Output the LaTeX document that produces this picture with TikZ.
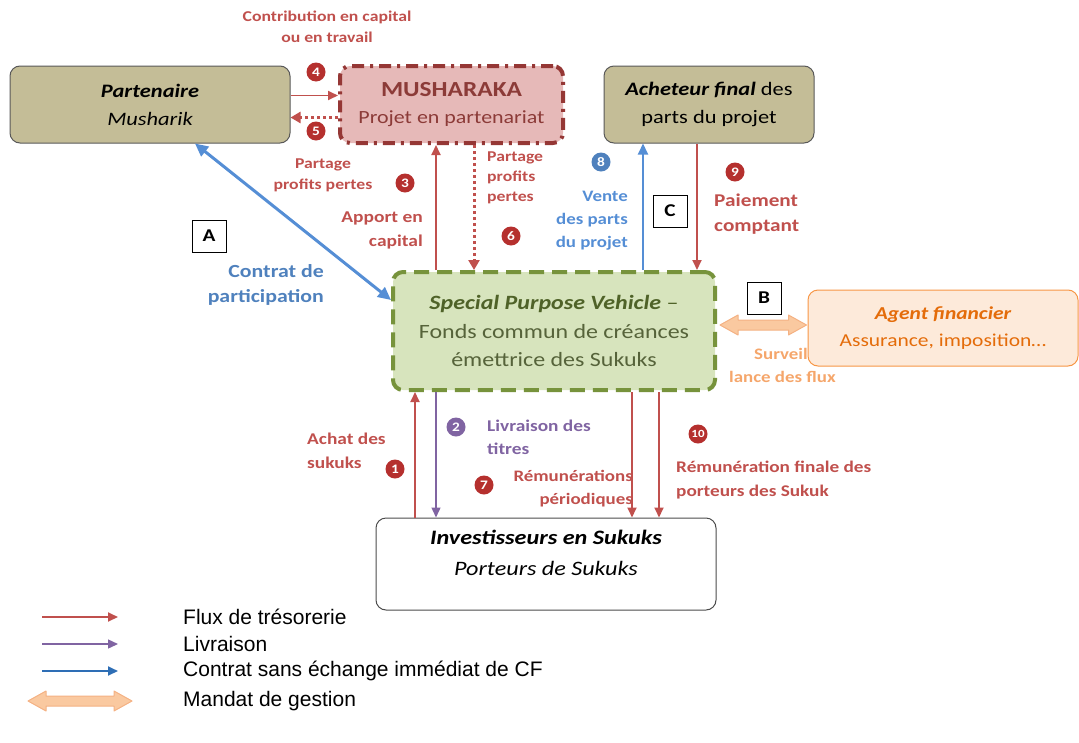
\documentclass[tikz,border=0pt]{standalone}
\usepackage{fontspec}
\setmainfont{Carlito}[FakeStretch=1.18]
\newfontfamily\legfont{Liberation Sans}
\usetikzlibrary{arrows.meta,calc}
\definecolor{tanc}{HTML}{C4BD97}
\definecolor{mushfill}{HTML}{E6B9B8}
\definecolor{mushline}{HTML}{953735}
\definecolor{mushtext}{HTML}{8C3B38}
\definecolor{spvfill}{HTML}{D7E4BD}
\definecolor{spvline}{HTML}{77933C}
\definecolor{spvdark}{HTML}{4F6228}
\definecolor{spvtext}{HTML}{56633A}
\definecolor{agfill}{HTML}{FDEADA}
\definecolor{agline}{HTML}{F79646}
\definecolor{agtext}{HTML}{E46C0A}
\definecolor{survc}{HTML}{F5A66B}
\definecolor{redc}{HTML}{C0504D}
\definecolor{numred}{HTML}{B5302E}
\definecolor{bluec}{HTML}{558ED5}
\definecolor{bluet}{HTML}{4F81BD}
\definecolor{legblue}{HTML}{2E6EB5}
\definecolor{purplec}{HTML}{8064A2}
\definecolor{fatfill}{HTML}{FAC9A0}
\definecolor{fatline}{HTML}{F4B183}
\begin{document}
\begin{tikzpicture}[x=1pt,y=-1pt,
  box/.style={rounded corners=10pt, align=center, inner sep=0pt},
  tanbox/.style={box, draw=black!65, fill=tanc, line width=1pt, font=\fontsize{19}{28}\selectfont},
  redarrow/.style={draw=redc, line width=1.8pt, -{Triangle[length=10pt,width=9pt]}},
  purarrow/.style={draw=purplec, line width=1.4pt, -{Triangle[length=10pt,width=9pt]}},
  bluearrow/.style={draw=bluec, line width=2pt, -{Triangle[length=11pt,width=10pt]}},
  dotarrow/.style={draw=redc, line width=3pt, dash pattern=on 3pt off 3pt, -{Triangle[length=10pt,width=11pt]}},
  num/.style={circle, fill=#1, text=white, inner sep=0pt, minimum size=19pt, font=\fontsize{13}{13}\selectfont\bfseries},
  lab/.style={text=redc, font=\fontsize{16}{23}\selectfont\bfseries, inner sep=0pt},
  letterbox/.style={draw=black, line width=1pt, fill=white, minimum width=34pt, minimum height=32pt, inner sep=0pt, font=\fontsize{18}{18}\selectfont\bfseries},
  fat/.style={fill=fatfill, draw=fatline, line width=1pt, line join=round},
  legtext/.style={anchor=west, inner sep=0pt, font=\legfont\fontsize{21}{21}\selectfont}
]
\useasboundingbox (0,0) rectangle (1079,742);

% ---- main boxes
\node[tanbox, minimum width=280pt, minimum height=77pt] (part) at (150,104.5)
  {{\bfseries\itshape Partenaire}\\ {\itshape Musharik}};
\node[box, draw=mushline, fill=mushfill, line width=4pt, dash pattern=on 12pt off 6pt on 3pt off 6pt,
  minimum width=223pt, minimum height=77pt, font=\fontsize{18.6}{27}\selectfont, text=mushtext] (mush) at (451.5,104.5)
  {{\fontsize{21.5}{21.5}\selectfont\bfseries MUSHARAKA}\\ Projet en partenariat};
\node[tanbox, minimum width=210pt, minimum height=77pt] (ach) at (709,104.5)
  {{\bfseries\itshape Acheteur final} des\\ parts du projet};
\node[box, draw=spvline, fill=spvfill, line width=4pt, dash pattern=on 15pt off 8pt,
  minimum width=322pt, minimum height=118pt, font=\fontsize{20.3}{28.5}\selectfont, text=spvtext] (spv) at (554,331)
  {{\color{spvdark}\bfseries\itshape Special Purpose Vehicle} {\color{spvdark}--}\\ Fonds commun de créances\\ émettrice des Sukuks};

% surveillance label (partly hidden by agent box)
\node[anchor=west, inner sep=0pt, text=survc, font=\fontsize{16}{16}\selectfont\bfseries] (surv1) at (754,354) {Surveil};
\node[anchor=west, inner sep=0pt, text=survc, font=\fontsize{16}{16}\selectfont\bfseries] (surv2) at (729,377) {lance des flux};

\node[box, draw=agline, fill=agfill, line width=1pt, minimum width=270pt, minimum height=76pt,
  font=\fontsize{18.2}{27}\selectfont, text=agtext] (agent) at (943,328)
  {{\bfseries\itshape Agent financier}\\ Assurance, imposition…};
\node[box, draw=black!70, fill=white, line width=1pt, minimum width=340pt, minimum height=92pt,
  font=\fontsize{20.5}{31}\selectfont] (inv) at (546,564)
  {{\bfseries\itshape Investisseurs en Sukuks}\\ {\itshape Porteurs de Sukuks}\\[-8pt]};

% ---- x positions
\coordinate (x1) at (415,0);
\coordinate (x2) at (436,0);
\coordinate (x6) at (474,0);
\coordinate (x7) at (632,0);
\coordinate (x10) at (659,0);
\coordinate (x8) at (643,0);
\coordinate (x9) at (697,0);

% ---- arrows between Partenaire and Musharaka
\draw[redarrow] ($(part.east)+(0,-9)$) -- ($(mush.west)+(0,-9)$);
\draw[dotarrow] ($(mush.west)+(0,13)$) -- ($(part.east)+(0,13)$);

% ---- Musharaka <-> SPV
\draw[redarrow] (spv.north -| x2) -- (mush.south -| x2);
\draw[dotarrow] (mush.south -| x6) -- (spv.north -| x6);

% ---- Acheteur <-> SPV
\draw[bluearrow] (spv.north -| x8) -- (ach.south -| x8);
\draw[redarrow] (ach.south -| x9) -- (spv.north -| x9);

% ---- Contrat de participation
\draw[draw=bluec, line width=3pt, {Triangle[length=13pt,width=12pt]}-{Triangle[length=13pt,width=12pt]}]
  ($(part.south)+(45,0)$) -- ($(spv.west)+(0,-31)$);

% ---- SPV <-> Investisseurs
\draw[redarrow] (inv.north -| x1) -- (spv.south -| x1);
\draw[purarrow] (spv.south -| x2) -- (inv.north -| x2);
\draw[redarrow] (spv.south -| x7) -- (inv.north -| x7);
\draw[redarrow] (spv.south -| x10) -- (inv.north -| x10);

% ---- fat double arrow SPV <-> Agent
\coordinate (bL) at ($(spv.east)+(3,-6)$);
\coordinate (bR) at ($(agent.west)+(-1,-3)$);
\filldraw[fat] (bL) -- ($(bL)+(18,-10)$) -- ($(bL)+(18,-5)$) -- ($(bR)+(-18,-5)$) -- ($(bR)+(-18,-10)$)
  -- (bR) -- ($(bR)+(-18,10)$) -- ($(bR)+(-18,5)$) -- ($(bL)+(18,5)$) -- ($(bL)+(18,10)$) -- cycle;

% ---- letter boxes
\node[letterbox] (A) at (209,236) {A};
\node[letterbox] (B) at (764,298) {B};
\node[letterbox] (C) at (670,211) {C};

% ---- labels
\node[lab, align=center, font=\fontsize{15}{21}\selectfont\bfseries] (l4) at (327,27) {Contribution en capital\\ ou en travail};
\node[lab, align=center, font=\fontsize{15}{21}\selectfont\bfseries] (l5) at (323,175) {Partage\\ profits pertes};
\node[lab, align=right, anchor=east, font=\fontsize{16.5}{24}\selectfont\bfseries] (l3) at (423,230) {Apport en\\ capital};
\node[lab, align=left, anchor=west, font=\fontsize{15}{20}\selectfont\bfseries] (l6) at (487,178) {Partage\\ profits\\ pertes};
\node[lab, align=right, anchor=east, text=bluec] (l8) at (628,221) {Vente\\ des parts\\ du projet};
\node[lab, align=left, anchor=west, font=\fontsize{18}{25}\selectfont\bfseries] (l9) at (714,214) {Paiement\\ comptant};
\node[lab, align=right, anchor=east, text=bluet, font=\fontsize{18.5}{25}\selectfont\bfseries] (lA) at (324,285) {Contrat de\\ participation};
\node[lab, align=left, anchor=west, text=purplec, font=\fontsize{16.4}{23}\selectfont\bfseries] (l2) at (487,437) {Livraison des\\ titres};
\node[lab, align=left, anchor=west, font=\fontsize{16.4}{24}\selectfont\bfseries] (l1) at (307,451) {Achat des\\ sukuks};
\node[lab, align=right, anchor=east] (l7) at (633,489) {Rémunérations\\ périodiques};
\node[lab, align=left, anchor=west, font=\fontsize{16.3}{24}\selectfont\bfseries] (l10) at (676,480) {Rémunération finale des\\ porteurs des Sukuk};

% ---- number circles
\node[num=numred] (n4) at (316,72) {4};
\node[num=numred] (n5) at (316,131) {5};
\node[num=numred] (n3) at (405,183) {3};
\node[num=numred] (n6) at (511,236) {6};
\node[num=bluet] (n8) at (601,162) {8};
\node[num=numred] (n9) at (735,172) {9};
\node[num=purplec] (n2) at (456,427) {2};
\node[num=numred] (n1) at (395,469) {1};
\node[num=numred] (n7) at (484,485) {7};
\node[num=numred, font=\fontsize{11}{11}\selectfont\bfseries] (n10) at (698,434) {10};

% ---- legend
\coordinate (g1a) at (42,617); \coordinate (g1b) at (118,617);
\coordinate (g2a) at (42,644); \coordinate (g2b) at (118,644);
\coordinate (g3a) at (42,671); \coordinate (g3b) at (118,671);
\coordinate (g4a) at (28,701); \coordinate (g4b) at (132,701);
\draw[redarrow] (g1a) -- (g1b);
\draw[purarrow] (g2a) -- (g2b);
\draw[draw=legblue, line width=1.8pt, -{Triangle[length=10pt,width=9pt]}] (g3a) -- (g3b);
\filldraw[fat] (g4a) -- ($(g4a)+(18,-10)$) -- ($(g4a)+(18,-5)$) -- ($(g4b)+(-18,-5)$) -- ($(g4b)+(-18,-10)$)
  -- (g4b) -- ($(g4b)+(-18,10)$) -- ($(g4b)+(-18,5)$) -- ($(g4a)+(18,5)$) -- ($(g4a)+(18,10)$) -- cycle;
\node[legtext] (t1) at (183,617) {Flux de trésorerie};
\node[legtext] (t2) at (183,644) {Livraison};
\node[legtext] (t3) at (183,671) {Contrat sans échange immédiat de CF};
\node[legtext] (t4) at (183,701) {Mandat de gestion};
\end{tikzpicture}
\end{document}
